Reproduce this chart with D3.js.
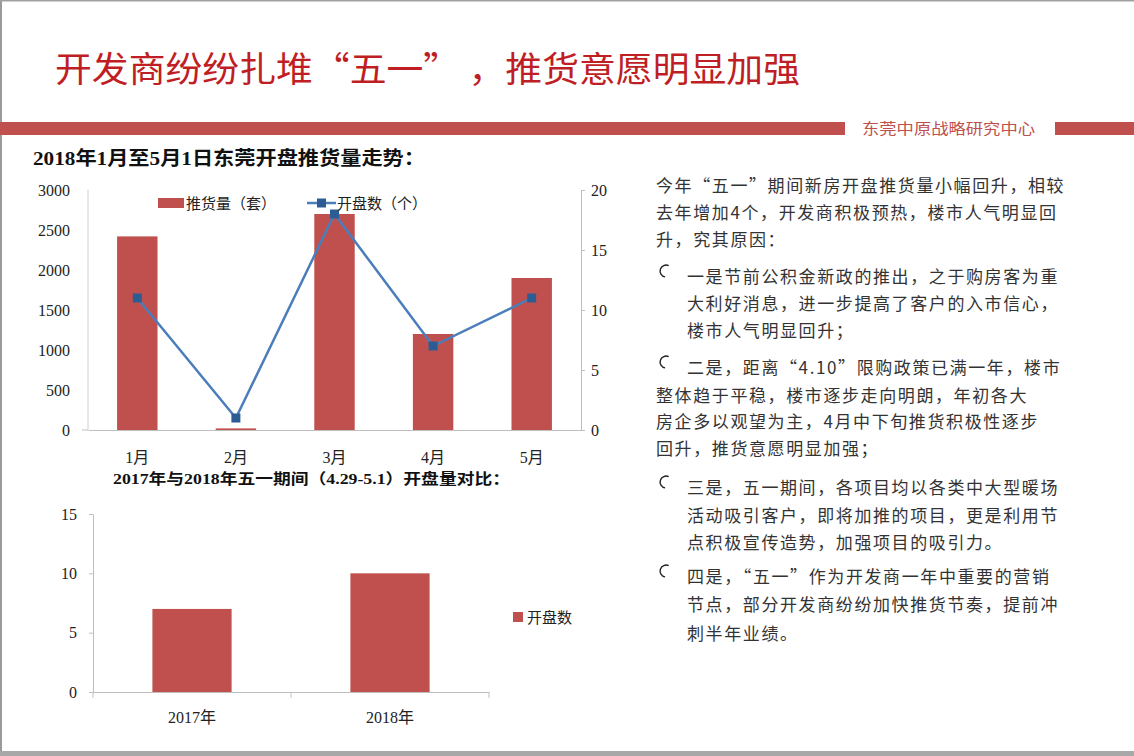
<!DOCTYPE html>
<html>
<head>
<meta charset="utf-8">
<script src="https://cdn.jsdelivr.net/npm/d3@7"></script>
<style>
  body { margin: 0; background: #fff; }
  svg { display: block; }
</style>
</head>
<body>
<svg id="page" width="1134" height="756"></svg>
<script>
"use strict";

// chart 1: monthly supply
const months = ["1月", "2月", "3月", "4月", "5月"];
const supply = [2420, 20, 2700, 1200, 1900];      // 推货量（套）
const openings = [11, 1, 18, 7, 11];               // 开盘数（个）
const leftTicks = [0, 500, 1000, 1500, 2000, 2500, 3000];
const rightTicks = [0, 5, 10, 15, 20];

// chart 2: May Day comparison
const years = ["2017年", "2018年"];
const yearOpenings = [7, 10];
const year_ticks = [0, 5, 10, 15];

const paragraph = [
    { bullet: false, x: 656, y: 192, text: "今年“五一”期间新房开盘推货量小幅回升，相较" },
    { bullet: false, x: 656, y: 219, text: "去年增加4个，开发商积极预热，楼市人气明显回" },
    { bullet: false, x: 656, y: 246, text: "升，究其原因：" },
    { bullet: true,  x: 687, y: 283, text: "一是节前公积金新政的推出，之于购房客为重" },
    { bullet: false, x: 687, y: 310, text: "大利好消息，进一步提高了客户的入市信心，" },
    { bullet: false, x: 687, y: 337, text: "楼市人气明显回升；" },
    { bullet: true,  x: 687, y: 374, text: "二是，距离“4.10”限购政策已满一年，楼市" },
    { bullet: false, x: 656, y: 402, text: "整体趋于平稳，楼市逐步走向明朗，年初各大" },
    { bullet: false, x: 656, y: 428, text: "房企多以观望为主，4月中下旬推货积极性逐步" },
    { bullet: false, x: 656, y: 455, text: "回升，推货意愿明显加强；" },
    { bullet: true,  x: 687, y: 494, text: "三是，五一期间，各项目均以各类中大型暖场" },
    { bullet: false, x: 687, y: 522, text: "活动吸引客户，即将加推的项目，更是利用节" },
    { bullet: false, x: 687, y: 549, text: "点积极宣传造势，加强项目的吸引力。" },
    { bullet: true,  x: 687, y: 583, text: "四是，“五一”作为开发商一年中重要的营销" },
    { bullet: false, x: 687, y: 611, text: "节点，部分开发商纷纷加快推货节奏，提前冲" },
    { bullet: false, x: 687, y: 640, text: "刺半年业绩。" }
];

const red = "#C0504D";
const cjk = "'Noto Sans CJK SC', sans-serif";
const serif = "'Liberation Serif', 'Noto Sans CJK SC', serif";

const svg = d3.select("#page");

// frame
svg.append("rect").attr("x", 0).attr("y", 0).attr("width", 2).attr("height", 756).attr("fill", "#9a9a9a");
svg.append("rect").attr("x", 0).attr("y", 0).attr("width", 1134).attr("height", 1.5).attr("fill", "#a0a0a0");
svg.append("rect").attr("x", 0).attr("y", 751).attr("width", 1134).attr("height", 5).attr("fill", "#a8a8a8");

// header
svg.append("text")
    .attr("x", 55).attr("y", 82)
    .attr("font-family", cjk).attr("font-size", 35)
    .attr("fill", "#BF1E24")
    .attr("textLength", 745).attr("lengthAdjust", "spacingAndGlyphs")
    .text("开发商纷纷扎堆“五一” ，推货意愿明显加强");

svg.append("rect").attr("x", 0).attr("y", 122).attr("width", 845).attr("height", 13).attr("fill", red);
svg.append("rect").attr("x", 1055).attr("y", 122).attr("width", 79).attr("height", 13).attr("fill", red);
svg.append("text")
    .attr("x", 862).attr("y", 134)
    .attr("font-family", cjk).attr("font-size", 15)
    .attr("fill", red)
    .attr("textLength", 173).attr("lengthAdjust", "spacingAndGlyphs")
    .text("东莞中原战略研究中心");

// chart 1 title
svg.append("text")
    .attr("x", 33).attr("y", 165)
    .attr("font-family", serif).attr("font-size", 19).attr("font-weight", "bold")
    .attr("fill", "#111")
    .attr("textLength", 392).attr("lengthAdjust", "spacingAndGlyphs")
    .text("2018年1月至5月1日东莞开盘推货量走势：");

// ---------- chart 1 ----------
const c1 = { left: 88, right: 581, top: 190, bottom: 430 };

const x1 = d3.scaleBand().domain(months).range([c1.left, c1.right]).paddingInner(0.59).paddingOuter(0.295);
const y1 = d3.scaleLinear().domain([0, 3000]).range([c1.bottom, c1.top]);
const y1r = d3.scaleLinear().domain([0, 20]).range([c1.bottom, c1.top]);

const g1 = svg.append("g");

g1.append("line")
    .attr("x1", c1.left).attr("x2", c1.left).attr("y1", c1.top).attr("y2", c1.bottom)
    .attr("stroke", "#d0d0d0");

g1.selectAll(".bar1")
    .data(supply)
    .enter().append("rect")
    .attr("class", "bar1")
    .attr("x", (d, i) => x1(months[i]))
    .attr("y", d => y1(d))
    .attr("width", x1.bandwidth())
    .attr("height", d => c1.bottom - y1(d))
    .attr("fill", red);

// left axis labels only
const leftAxis = g1.append("g")
    .attr("transform", `translate(${c1.left},0)`)
    .call(d3.axisLeft(y1).tickValues(leftTicks).tickFormat(d3.format("d")).tickSize(0).tickPadding(18));
leftAxis.select(".domain").remove();
leftAxis.selectAll("text").attr("font-family", serif).attr("font-size", 16).attr("fill", "#222");

// right axis
const rightAxis = g1.append("g")
    .attr("transform", `translate(${c1.right},0)`)
    .call(d3.axisRight(y1r).tickValues(rightTicks).tickSize(4).tickPadding(6));
rightAxis.select(".domain").attr("stroke", "#bfbfbf");
rightAxis.selectAll("line").attr("stroke", "#bfbfbf");
rightAxis.selectAll("text").attr("font-family", serif).attr("font-size", 16).attr("fill", "#222");

// baseline + month labels
const bottomAxis = g1.append("g")
    .attr("transform", `translate(0,${c1.bottom})`)
    .call(d3.axisBottom(x1).tickSize(0).tickPadding(22).tickSizeOuter(0));
bottomAxis.select(".domain").attr("stroke", "#bfbfbf");
bottomAxis.selectAll("text").attr("font-family", serif).attr("font-size", 16).attr("fill", "#222");
g1.append("line").attr("x1", c1.left - 6).attr("x2", c1.left).attr("y1", c1.bottom).attr("y2", c1.bottom).attr("stroke", "#bfbfbf");

const line1 = d3.line()
    .x((d, i) => x1(months[i]) + x1.bandwidth() / 2)
    .y(d => y1r(d));

g1.append("path")
    .datum(openings)
    .attr("d", line1)
    .attr("fill", "none")
    .attr("stroke", "#4A7EBB")
    .attr("stroke-width", 2.5);

g1.selectAll(".mark1")
    .data(openings)
    .enter().append("rect")
    .attr("class", "mark1")
    .attr("x", (d, i) => x1(months[i]) + x1.bandwidth() / 2 - 4.5)
    .attr("y", d => y1r(d) - 4.5)
    .attr("width", 9).attr("height", 9)
    .attr("fill", "#2C5C94");

// legend
const lg = g1.append("g");
lg.append("rect").attr("x", 158).attr("y", 198).attr("width", 26).attr("height", 10).attr("fill", red);
lg.append("text").attr("x", 186).attr("y", 209)
    .attr("font-family", cjk).attr("font-size", 15).attr("fill", "#222")
    .text("推货量（套）");
lg.append("line").attr("x1", 307).attr("x2", 336).attr("y1", 203).attr("y2", 203)
    .attr("stroke", "#4A7EBB").attr("stroke-width", 2.5);
lg.append("rect").attr("x", 317).attr("y", 198.5).attr("width", 9).attr("height", 9).attr("fill", "#2C5C94");
lg.append("text").attr("x", 337).attr("y", 209)
    .attr("font-family", cjk).attr("font-size", 15).attr("fill", "#222")
    .text("开盘数（个）");

// ---------- chart 2 ----------
svg.append("text")
    .attr("x", 113).attr("y", 484)
    .attr("font-family", serif).attr("font-size", 15).attr("font-weight", "bold")
    .attr("fill", "#111")
    .attr("textLength", 397).attr("lengthAdjust", "spacingAndGlyphs")
    .text("2017年与2018年五一期间（4.29-5.1）开盘量对比：");

const c2 = { left: 93, right: 489, top: 514, bottom: 692 };
const x2 = d3.scaleBand().domain(years).range([c2.left, c2.right]).paddingInner(0.6).paddingOuter(0.3);
const y2 = d3.scaleLinear().domain([0, 15]).range([c2.bottom, c2.top]);

const g2 = svg.append("g");

g2.selectAll(".bar2")
    .data(yearOpenings)
    .enter().append("rect")
    .attr("class", "bar2")
    .attr("x", (d, i) => x2(years[i]))
    .attr("y", d => y2(d))
    .attr("width", x2.bandwidth())
    .attr("height", d => c2.bottom - y2(d))
    .attr("fill", red);

const leftAxis2 = g2.append("g")
    .attr("transform", `translate(${c2.left},0)`)
    .call(d3.axisLeft(y2).tickValues(year_ticks).tickSize(4).tickPadding(12).tickSizeOuter(0));
leftAxis2.select(".domain").attr("stroke", "#bfbfbf");
leftAxis2.selectAll("line").attr("stroke", "#bfbfbf");
leftAxis2.selectAll("text").attr("font-family", serif).attr("font-size", 16).attr("fill", "#222");

const bottomAxis2 = g2.append("g")
    .attr("transform", `translate(0,${c2.bottom})`)
    .call(d3.axisBottom(x2).tickSize(0).tickPadding(20).tickSizeOuter(0));
bottomAxis2.select(".domain").attr("stroke", "#bfbfbf");
bottomAxis2.selectAll("text").attr("font-family", serif).attr("font-size", 16).attr("fill", "#222");

// category boundary ticks
g2.selectAll(".sep2")
    .data(d3.range(years.length + 1))
    .enter().append("line")
    .attr("class", "sep2")
    .attr("x1", d => c2.left + d * (c2.right - c2.left) / years.length)
    .attr("x2", d => c2.left + d * (c2.right - c2.left) / years.length)
    .attr("y1", c2.bottom).attr("y2", c2.bottom + 6)
    .attr("stroke", "#bfbfbf");

g2.append("rect").attr("x", 513).attr("y", 612).attr("width", 10).attr("height", 10).attr("fill", red);
g2.append("text").attr("x", 527).attr("y", 623)
    .attr("font-family", cjk).attr("font-size", 15).attr("fill", "#222")
    .text("开盘数");

// ---------- right text ----------
const tg = svg.append("g");
const bulletArc = d3.arc().innerRadius(5.2).outerRadius(6.6)
    .startAngle(Math.PI * 1.05).endAngle(Math.PI * 2.15);
paragraph.forEach(p => {
    tg.append("text")
        .attr("x", p.x).attr("y", p.y)
        .attr("font-family", cjk).attr("font-size", 17)
        .attr("letter-spacing", 1.6)
        .attr("fill", "#333")
        .text(p.text);
    if (p.bullet) {
        tg.append("path")
            .attr("transform", `translate(666,${p.y - 12})`)
            .attr("d", bulletArc())
            .attr("fill", "#222");
    }
});
</script>
</body>
</html>
